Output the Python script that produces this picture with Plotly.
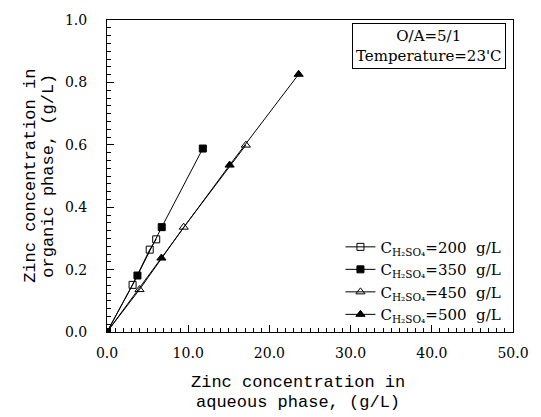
import plotly.graph_objects as go

# Data
x_200 = [0.0, 3.15, 5.26, 6.06]
y_200 = [0.0, 0.151, 0.264, 0.297]
x_350 = [0.0, 3.75, 6.74, 11.8]
y_350 = [0.0, 0.181, 0.336, 0.588]
x_450 = [0.0, 4.0, 9.45, 17.1]
y_450 = [0.0, 0.136, 0.336, 0.599]
x_500 = [0.0, 6.7, 15.1, 23.6]
y_500 = [0.0, 0.237, 0.535, 0.826]

series_names = [
    "C<sub>H₂SO₄</sub>=200\u00a0\u00a0g/L",
    "C<sub>H₂SO₄</sub>=350\u00a0\u00a0g/L",
    "C<sub>H₂SO₄</sub>=450\u00a0\u00a0g/L",
    "C<sub>H₂SO₄</sub>=500\u00a0\u00a0g/L",
]
x_ticks = [0, 10, 20, 30, 40, 50]
x_ticklabels = ["0.0", "10.0", "20.0", "30.0", "40.0", "50.0"]
y_ticks = [0, 0.2, 0.4, 0.6, 0.8, 1.0]
y_ticklabels = ["0.0", "0.2", "0.4", "0.6", "0.8", "1.0"]

serif = "DejaVu Serif, Liberation Serif, serif"
mono = "Liberation Mono, DejaVu Sans Mono, monospace"

fig = go.Figure()
specs = [
    (x_200, y_200, "square-open", 7),
    (x_350, y_350, "square", 7),
    (x_450, y_450, "triangle-up-open", 8),
    (x_500, y_500, "triangle-up", 8),
]
for (xs, ys, sym, sz), name in zip(specs, series_names):
    fig.add_trace(go.Scatter(
        x=xs, y=ys, mode="lines+markers", name=name,
        line=dict(color="black", width=1),
        marker=dict(symbol=sym, size=sz, color="black",
                    line=dict(color="black", width=1)),
    ))

axis_common = dict(
    showline=True, linecolor="black", linewidth=1, mirror=True,
    ticks="inside", ticklen=7, tickcolor="black", tickwidth=1,
    showgrid=False, zeroline=False,
    tickfont=dict(family=serif, size=14, color="black"),
)
fig.update_xaxes(range=[0, 50], tickvals=x_ticks, ticktext=x_ticklabels,
                 minor=dict(ticks="inside", ticklen=4, dtick=1, tickcolor="black"),
                 ticklabelstandoff=8, **axis_common)
fig.update_yaxes(range=[0, 1.0], tickvals=y_ticks, ticktext=y_ticklabels,
                 minor=dict(ticks="inside", ticklen=4, dtick=0.025, tickcolor="black"),
                 ticklabelstandoff=16, **axis_common)

annotations = [
    dict(text="Zinc concentration in", x=0.47, y=-0.163, xref="paper", yref="paper",
         showarrow=False, font=dict(family=mono, size=17, color="black"),
         xanchor="center", yanchor="middle"),
    dict(text="aqueous phase, (g/L)", x=0.47, y=-0.226, xref="paper", yref="paper",
         showarrow=False, font=dict(family=mono, size=17, color="black"),
         xanchor="center", yanchor="middle"),
    dict(text="Zinc concentration in", x=-0.19, y=0.5, xref="paper", yref="paper",
         showarrow=False, textangle=-90, font=dict(family=mono, size=17, color="black"),
         xanchor="center", yanchor="middle"),
    dict(text="organic phase, (g/L)", x=-0.146, y=0.5, xref="paper", yref="paper",
         showarrow=False, textangle=-90, font=dict(family=mono, size=17, color="black"),
         xanchor="center", yanchor="middle"),
    dict(text="O/A=5/1<br>Temperature=23'C", x=0.983, y=0.99, xref="paper", yref="paper",
         showarrow=False, font=dict(family=serif, size=15, color="black"),
         xanchor="right", yanchor="top", align="center",
         bordercolor="black", borderwidth=1, borderpad=3, bgcolor="white"),
]

fig.update_layout(
    width=541, height=417,
    margin=dict(l=107, r=16, t=17, b=85),
    paper_bgcolor="white", plot_bgcolor="white",
    showlegend=True,
    legend=dict(x=0.575, y=0.325, xanchor="left", yanchor="top",
                font=dict(family=serif, size=15, color="black"),
                bgcolor="rgba(0,0,0,0)", borderwidth=0, tracegroupgap=0,
                itemwidth=30),
    annotations=annotations,
)

fig.write_html("out.html")
